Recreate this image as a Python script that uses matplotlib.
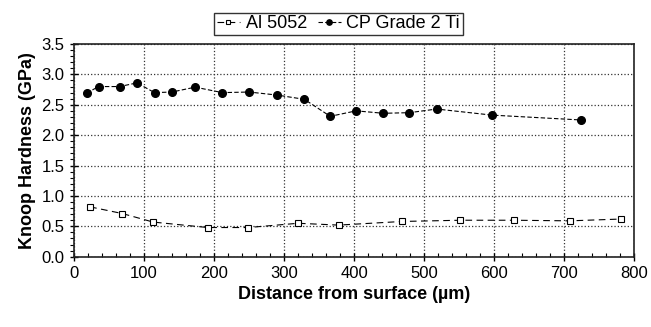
import matplotlib
matplotlib.use("Agg")
import matplotlib.pyplot as plt
from matplotlib.ticker import MultipleLocator

plt.rcParams['font.family'] = ['Liberation Sans', 'DejaVu Sans']

al_x = [23, 69, 113, 191, 249, 320, 378, 469, 552, 628, 708, 782]
al_y = [0.82, 0.71, 0.57, 0.48, 0.48, 0.55, 0.52, 0.58, 0.60, 0.60, 0.59, 0.62]

ti_x = [18, 35, 65, 90, 115, 140, 173, 212, 250, 290, 329, 366, 403, 442, 479, 518, 597, 724]
ti_y = [2.69, 2.80, 2.80, 2.86, 2.70, 2.71, 2.79, 2.70, 2.71, 2.66, 2.59, 2.31, 2.40, 2.36, 2.37, 2.43, 2.33, 2.25]

fig = plt.figure(figsize=(6.51, 3.27), dpi=100)
ax = fig.add_axes([0.1137, 0.215, 0.8603, 0.6504])

ax.plot(al_x, al_y, linestyle=(0, (6, 4)), color='black', linewidth=0.8,
        marker='s', markersize=5, markerfacecolor='white', markeredgecolor='black',
        markeredgewidth=0.8, label='Al 5052')
ax.plot(ti_x, ti_y, linestyle=(0, (4, 2)), color='black', linewidth=0.8,
        marker='o', markersize=5.5, markerfacecolor='black', markeredgecolor='black',
        label='CP Grade 2 Ti')

ax.set_xlim(0, 800)
ax.set_ylim(0, 3.5)
ax.xaxis.set_major_locator(MultipleLocator(100))
ax.xaxis.set_minor_locator(MultipleLocator(20))
ax.yaxis.set_major_locator(MultipleLocator(0.5))
ax.yaxis.set_minor_locator(MultipleLocator(0.1))
ax.set_yticklabels([f'{v:.1f}' for v in ax.get_yticks()])

ax.grid(True, which='major', linestyle=':', color='#333333', linewidth=0.9)
ax.tick_params(axis='both', which='major', labelsize=12, length=6, width=1, direction='inout', pad=4)
ax.tick_params(axis='x', which='minor', length=3, width=0.8, direction='in')
ax.tick_params(axis='y', which='minor', length=3, width=0.8, direction='out')
for s in ax.spines.values():
    s.set_linewidth(1.2)
    s.set_color('#222222')

ax.set_xlabel('Distance from surface (\u00b5m)', fontsize=13, fontweight='bold', labelpad=3)
ax.set_ylabel('Knoop Hardness (GPa)', fontsize=13, fontweight='bold', labelpad=4)

leg = ax.legend(loc='lower center', bbox_to_anchor=(0.472, 1.0), ncol=2, fontsize=13,
                frameon=True, fancybox=False, edgecolor='black', handlelength=1.3,
                handletextpad=0.3, columnspacing=0.6, borderpad=0.15, borderaxespad=0.5,
                markerscale=0.7)
leg.get_frame().set_linewidth(1.0)

fig.savefig('out.png', dpi=100)
